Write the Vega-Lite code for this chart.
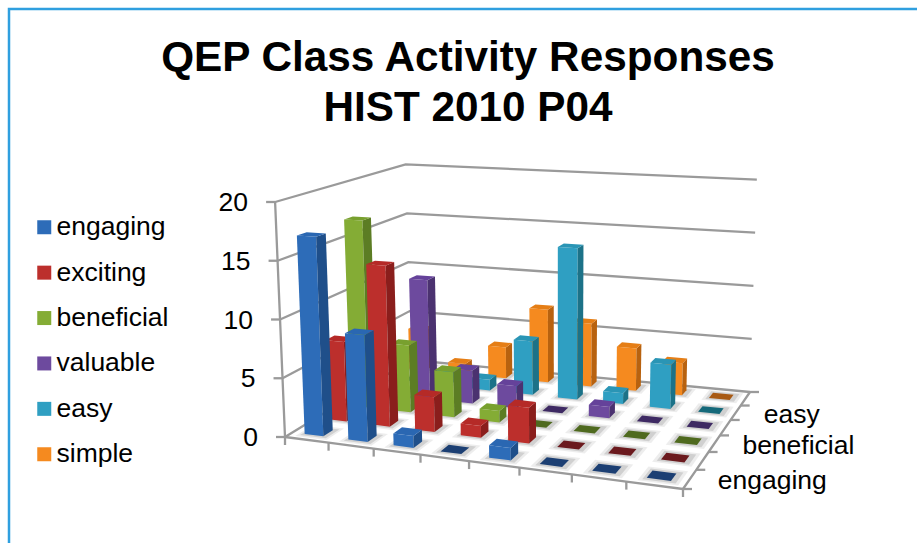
{
"$schema":"https://vega.github.io/schema/vega-lite/v6.json",
"width":920,"height":536,
"autosize":"none",
"padding":{"left":9,"top":9,"right":0,"bottom":0},
"background":"white",
"view":{"stroke":"#2f9fdf","strokeWidth":2.5,"fill":"white"},
"title":{"text":["QEP Class Activity Responses","HIST 2010 P04"],"fontSize":42.3,"font":"Liberation Sans","fontWeight":"bold","color":"#000000","anchor":"start","dx":459,"dy":158,"lineHeight":50,"baseline":"alphabetic","align":"center"},
"config":{"font":"Liberation Sans"},
"datasets":{
"bars":[
{"series":"simple","row":5,"cat":0,"value":4},{"series":"simple","row":5,"cat":1,"value":1},{"series":"simple","row":5,"cat":2,"value":3},{"series":"simple","row":5,"cat":3,"value":7},{"series":"simple","row":5,"cat":4,"value":6},{"series":"simple","row":5,"cat":5,"value":4},{"series":"simple","row":5,"cat":6,"value":3},{"series":"simple","row":5,"cat":7,"value":0},
{"series":"easy","row":4,"cat":0,"value":0},{"series":"easy","row":4,"cat":1,"value":1},{"series":"easy","row":4,"cat":2,"value":1},{"series":"easy","row":4,"cat":3,"value":5},{"series":"easy","row":4,"cat":4,"value":14},{"series":"easy","row":4,"cat":5,"value":1},{"series":"easy","row":4,"cat":6,"value":4},{"series":"easy","row":4,"cat":7,"value":0},
{"series":"valuable","row":3,"cat":0,"value":0},{"series":"valuable","row":3,"cat":1,"value":11},{"series":"valuable","row":3,"cat":2,"value":3},{"series":"valuable","row":3,"cat":3,"value":2},{"series":"valuable","row":3,"cat":4,"value":0},{"series":"valuable","row":3,"cat":5,"value":1},{"series":"valuable","row":3,"cat":6,"value":0},{"series":"valuable","row":3,"cat":7,"value":0},
{"series":"beneficial","row":2,"cat":0,"value":17},{"series":"beneficial","row":2,"cat":1,"value":6},{"series":"beneficial","row":2,"cat":2,"value":4},{"series":"beneficial","row":2,"cat":3,"value":1},{"series":"beneficial","row":2,"cat":4,"value":0},{"series":"beneficial","row":2,"cat":5,"value":0},{"series":"beneficial","row":2,"cat":6,"value":0},{"series":"beneficial","row":2,"cat":7,"value":0},
{"series":"exciting","row":1,"cat":0,"value":7},{"series":"exciting","row":1,"cat":1,"value":14},{"series":"exciting","row":1,"cat":2,"value":3},{"series":"exciting","row":1,"cat":3,"value":1},{"series":"exciting","row":1,"cat":4,"value":3},{"series":"exciting","row":1,"cat":5,"value":0},{"series":"exciting","row":1,"cat":6,"value":0},{"series":"exciting","row":1,"cat":7,"value":0},
{"series":"engaging","row":0,"cat":0,"value":17},{"series":"engaging","row":0,"cat":1,"value":9},{"series":"engaging","row":0,"cat":2,"value":1},{"series":"engaging","row":0,"cat":3,"value":0},{"series":"engaging","row":0,"cat":4,"value":1},{"series":"engaging","row":0,"cat":5,"value":0},{"series":"engaging","row":0,"cat":6,"value":0},{"series":"engaging","row":0,"cat":7,"value":0}
],
"valueTicks":[{"tick":0},{"tick":5},{"tick":10},{"tick":15},{"tick":20}],
"catTicks":[{"tick":0},{"tick":1},{"tick":2},{"tick":3},{"tick":4},{"tick":5},{"tick":6},{"tick":7},{"tick":8}],
"depthTicks":[{"tick":0},{"tick":1},{"tick":2},{"tick":3},{"tick":4},{"tick":5},{"tick":6}],
"depthLabels":[{"label":"engaging","row":0},{"label":"beneficial","row":2},{"label":"easy","row":4}]
},
"layer":[
{
"data":{"name":"valueTicks"},
"transform":[
{"calculate":"[0,1,2]","as":"k"},{"flatten":["k"]},
{"calculate":"datum.k==0?0:1","as":"u"},{"calculate":"datum.k==2?1:0","as":"uu"},
{"calculate":"1+(-0.13966)*datum.uu+0.20164*datum.u","as":"D"},
{"calculate":"(302.61*datum.uu+208.87*datum.u+285)/datum.D","as":"X0"},
{"calculate":"(-16.29*datum.uu-4.41*datum.u+437)/datum.D","as":"Y0"},
{"calculate":"datum.X0+(datum.X0-560)*0.0018*datum.tick","as":"px"},
{"calculate":"datum.Y0-11.75*(1-0.04*datum.uu)/datum.D*datum.tick","as":"py"}
],
"mark":{"type":"line","color":"#9a9a9a","strokeWidth":2.3},
"encoding":{"x":{"field":"px","type":"quantitative","scale":{"domain":[9,929],"nice":false,"zero":false},"axis":null},"y":{"field":"py","type":"quantitative","scale":{"domain":[545,9],"nice":false,"zero":false},"axis":null},"order":{"field":"k"},"detail":{"field":"tick"}}
},
{
"data":{"name":"valueTicks"},
"transform":[
{"calculate":"285+(285-560)*0.0018*datum.tick","as":"px"},
{"calculate":"437-11.75*datum.tick","as":"py"}
],
"mark":{"type":"line","color":"#9a9a9a","strokeWidth":2.3},
"encoding":{"x":{"field":"px","type":"quantitative"},"y":{"field":"py","type":"quantitative"},"order":{"field":"tick"}}
},
{
"data":{"name":"valueTicks"},
"transform":[
{"calculate":"285+(285-560)*0.0018*datum.tick","as":"px"},
{"calculate":"datum.px-9","as":"px2"},
{"calculate":"437-11.75*datum.tick","as":"py"}
],
"mark":{"type":"rule","color":"#9a9a9a","strokeWidth":2.3},
"encoding":{"x":{"field":"px","type":"quantitative"},"x2":{"field":"px2"},"y":{"field":"py","type":"quantitative"}}
},
{
"data":{"name":"valueTicks"},
"transform":[
{"calculate":"285+(285-560)*0.0018*datum.tick-27","as":"px"},
{"calculate":"437-11.75*datum.tick+1","as":"py"}
],
"mark":{"type":"text","align":"right","baseline":"middle","fontSize":26.5,"font":"Liberation Sans","color":"#000000"},
"encoding":{"x":{"field":"px","type":"quantitative"},"y":{"field":"py","type":"quantitative"},"text":{"field":"tick","type":"quantitative"}}
},
{
"data":{"name":"catTicks"},
"transform":[
{"calculate":"datum.tick/8","as":"u"},
{"calculate":"1-0.13966*datum.u","as":"D"},
{"calculate":"(302.61*datum.u+285)/datum.D","as":"px"},
{"calculate":"(-16.29*datum.u+437)/datum.D","as":"py"},
{"calculate":"datum.py+8","as":"py2"}
],
"layer":[
{"mark":{"type":"line","color":"#9a9a9a","strokeWidth":2.3},"encoding":{"x":{"field":"px","type":"quantitative"},"y":{"field":"py","type":"quantitative"},"order":{"field":"tick"}}},
{"mark":{"type":"rule","color":"#9a9a9a","strokeWidth":2.3},"encoding":{"x":{"field":"px","type":"quantitative"},"y":{"field":"py","type":"quantitative"},"y2":{"field":"py2"}}}
]
},
{
"data":{"name":"depthTicks"},
"transform":[
{"calculate":"datum.tick/6","as":"w"},
{"calculate":"1-0.13966+0.20164*datum.w","as":"D"},
{"calculate":"(302.61+208.87*datum.w+285)/datum.D","as":"px"},
{"calculate":"(-16.29-4.41*datum.w+437)/datum.D","as":"py"},
{"calculate":"datum.px+9","as":"px2"}
],
"layer":[
{"mark":{"type":"line","color":"#9a9a9a","strokeWidth":2.3},"encoding":{"x":{"field":"px","type":"quantitative"},"y":{"field":"py","type":"quantitative"},"order":{"field":"tick"}}},
{"mark":{"type":"rule","color":"#9a9a9a","strokeWidth":2.3},"encoding":{"x":{"field":"px","type":"quantitative"},"x2":{"field":"px2"},"y":{"field":"py","type":"quantitative"}}}
]
},
{
"data":{"name":"depthLabels"},
"transform":[
{"calculate":"(datum.row+0.5)/6","as":"w"},
{"calculate":"1-0.13966+0.20164*datum.w","as":"D"},
{"calculate":"(302.61+208.87*datum.w+285)/datum.D+28","as":"px"},
{"calculate":"(-16.29-4.41*datum.w+437)/datum.D+2","as":"py"}
],
"mark":{"type":"text","align":"left","baseline":"middle","fontSize":26.5,"font":"Liberation Sans","color":"#000000"},
"encoding":{"x":{"field":"px","type":"quantitative"},"y":{"field":"py","type":"quantitative"},"text":{"field":"label"}}
},
{
"data":{"name":"bars"},
"transform":[
{"calculate":"(datum.cat+0.5)/8","as":"uc"},
{"calculate":"(datum.row+0.5)/6","as":"wc"},
{"calculate":"datum.row*10+datum.cat","as":"bar"},
{"calculate":"[0,1,2,3]","as":"k"},{"flatten":["k"]},
{"calculate":"datum.uc+((datum.k==1||datum.k==2)?0.048:-0.042)","as":"u"},
{"calculate":"datum.wc+(datum.k>=2?0.062:-0.062)","as":"w"},
{"calculate":"1-0.13966*datum.u+0.20164*datum.w","as":"D"},
{"calculate":"(302.61*datum.u+208.87*datum.w+285)/datum.D","as":"px"},
{"calculate":"(-16.29*datum.u-4.41*datum.w+437)/datum.D","as":"py"}
],
"mark":{"type":"line","interpolate":"linear-closed","filled":true,"color":"#000000","fill":"#000000","opacity":0.07,"strokeWidth":0},
"encoding":{"x":{"field":"px","type":"quantitative"},"y":{"field":"py","type":"quantitative"},"order":{"field":"k"},"detail":{"field":"bar"}}
},
{
"data":{"name":"bars"},
"transform":[
{"calculate":"(datum.cat+0.5)/8","as":"uc"},
{"calculate":"(datum.row+0.5)/6","as":"wc"},
{"calculate":"datum.row*10+datum.cat","as":"bar"},
{"calculate":"[0,1,2,3]","as":"k"},{"flatten":["k"]},
{"calculate":"datum.uc+((datum.k==1||datum.k==2)?0.04:-0.034)","as":"u"},
{"calculate":"datum.wc+(datum.k>=2?0.048:-0.048)","as":"w"},
{"calculate":"1-0.13966*datum.u+0.20164*datum.w","as":"D"},
{"calculate":"(302.61*datum.u+208.87*datum.w+285)/datum.D","as":"px"},
{"calculate":"(-16.29*datum.u-4.41*datum.w+437)/datum.D","as":"py"}
],
"mark":{"type":"line","interpolate":"linear-closed","filled":true,"color":"#000000","fill":"#000000","opacity":0.12,"strokeWidth":0},
"encoding":{"x":{"field":"px","type":"quantitative"},"y":{"field":"py","type":"quantitative"},"order":{"field":"k"},"detail":{"field":"bar"}}
},
{
"data":{"name":"bars"},
"transform":[
{"calculate":"(datum.cat+0.5)/8","as":"uc"},
{"calculate":"(datum.row+0.5)/6","as":"wc"},
{"calculate":"datum.value==0?['top']:['front','side','top']","as":"face"},{"flatten":["face"]},
{"calculate":"datum.row*10+datum.cat+'-'+datum.face","as":"poly"},
{"calculate":"datum.series+' '+(datum.value==0?'zero':datum.face)","as":"paint"},
{"calculate":"[0,1,2,3]","as":"k"},{"flatten":["k"]},
{"calculate":"datum.face=='side'?1:((datum.k==1||datum.k==2)?1:0)","as":"ui"},
{"calculate":"datum.face=='front'?0:(datum.face=='side'?((datum.k==1||datum.k==2)?1:0):(datum.k>=2?1:0))","as":"wi"},
{"calculate":"datum.face=='top'?datum.value:(datum.k>=2?datum.value:0)","as":"h"},
{"calculate":"datum.uc+(datum.ui==1?0.027:-0.027)","as":"u"},
{"calculate":"datum.wc+(datum.wi==1?0.033:-0.033)","as":"w"},
{"calculate":"1-0.13966*datum.u+0.20164*datum.w","as":"D"},
{"calculate":"(302.61*datum.u+208.87*datum.w+285)/datum.D","as":"X0"},
{"calculate":"(-16.29*datum.u-4.41*datum.w+437)/datum.D","as":"Y0"},
{"calculate":"datum.X0+(datum.X0-560)*0.0018*datum.h","as":"px"},
{"calculate":"datum.Y0-11.75*(1-0.04*datum.u)/datum.D*datum.h","as":"py"}
],
"mark":{"type":"line","interpolate":"linear-closed","filled":true,"strokeWidth":0},
"encoding":{
"x":{"field":"px","type":"quantitative"},"y":{"field":"py","type":"quantitative"},"order":{"field":"k"},"detail":{"field":"poly"},
"fill":{"field":"paint","type":"nominal",
"scale":{"domain":["engaging front","exciting front","beneficial front","valuable front","easy front","simple front","engaging side","exciting side","beneficial side","valuable side","easy side","simple side","engaging top","exciting top","beneficial top","valuable top","easy top","simple top","engaging zero","exciting zero","beneficial zero","valuable zero","easy zero","simple zero"],
"range":["#2d6cb8","#bc2f2c","#84ac35","#6d4a9e","#2f9fc2","#f58a1f","#1f4f8a","#8a1e1c","#5c7d24","#4b3270","#1c7288","#b8620f","#2a67b2","#b52a27","#78a02e","#65429a","#2a95b5","#e57e16","#1c3f73","#6b1a1e","#4f6a1f","#3e2a63","#15697a","#a85a14"]},
"legend":{"title":null,"orient":"none","legendX":22,"legendY":205,"values":["engaging front","exciting front","beneficial front","valuable front","easy front","simple front"],"labelExpr":"split(datum.label,' ')[0]","symbolType":"square","symbolSize":196,"symbolStrokeWidth":0,"labelFontSize":26.5,"labelFont":"Liberation Sans","labelColor":"#000000","rowPadding":18.4,"labelOffset":-1,"labelLimit":200}
}
}
}
]
}
